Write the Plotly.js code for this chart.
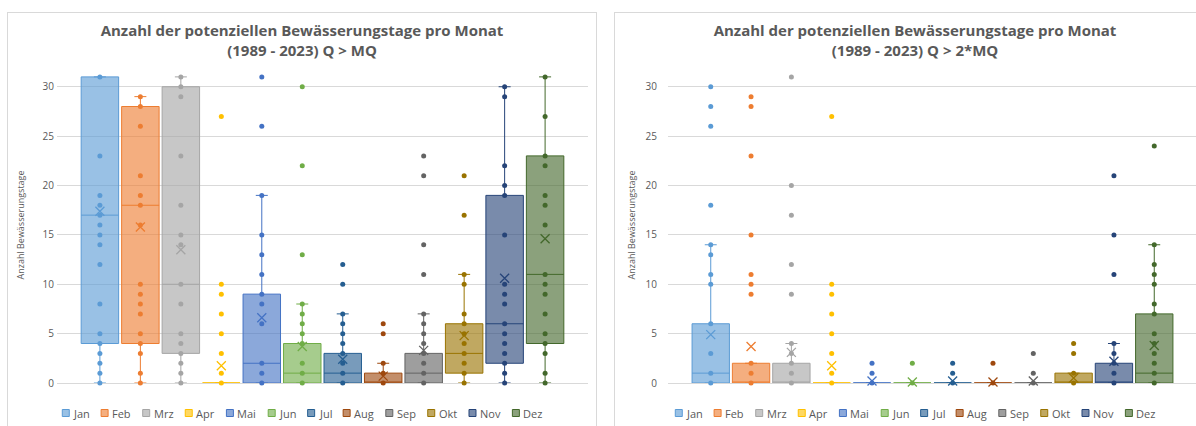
<!DOCTYPE html>
<html><head><meta charset="utf-8">
<script src="https://cdn.plot.ly/plotly-3.0.1.min.js"></script>
<style>
html,body{margin:0;padding:0;background:#fff;overflow:hidden;width:1196px;height:426px;}
.panel{position:absolute;border:1px solid #d9d9d9;box-sizing:border-box;overflow:hidden;background:#fff;}
#p1{left:7px;top:12px;width:590px;height:430px;}
#p2{left:614px;top:12px;width:602px;height:430px;}
.plot{position:absolute;left:0;top:0;}
</style></head><body>
<div id="p1" class="panel"><div id="c1" class="plot"></div></div>
<div id="p2" class="panel"><div id="c2" class="plot"></div></div>
<script>
// ---------- DATA ----------
const months = ['Jan','Feb','Mrz','Apr','Mai','Jun','Jul','Aug','Sep','Okt','Nov','Dez'];

// Chart 1: Q > MQ
const mqQ1     = [4, 4, 3, 0, 0, 0, 0, 0, 0, 1, 2, 4];
const mqMedian = [17, 18, 10, 0, 2, 1, 1, 0, 1, 3, 6, 11];
const mqQ3     = [31, 28, 30, 0, 9, 4, 3, 1, 3, 6, 19, 23];
const mqLower  = [0, 0, 0, 0, 0, 0, 0, 0, 0, 0, 0, 0];
const mqUpper  = [31, 29, 31, 0, 19, 8, 7, 2, 7, 11, 30, 31];
const mqMean   = [17.4, 15.8, 13.5, 1.75, 6.6, 3.7, 2.4, 0.7, 3.3, 4.8, 10.6, 14.6];
const mqPoints = [
  [31,23,19,18,17,16,15,14,12,8,5,4,3,2,1,0],
  [29,28,26,21,19,18,16,10,9,8,7,5,4,3,1,0],
  [31,30,29,23,18,15,14,10,8,5,4,3,2,1,0],
  [27,10,9,7,5,3,1,0],
  [31,26,19,15,13,11,9,8,6,2,1,0],
  [30,22,13,8,7,6,5,4,2,1,0],
  [12,10,7,6,5,4,3,2,1,0],
  [6,5,2,1,0],
  [23,21,14,11,7,6,5,4,3,2,1,0],
  [21,17,11,10,7,6,5,4,3,2,1,0],
  [30,29,22,20,19,15,10,9,8,6,5,4,3,2,1,0],
  [31,27,23,22,19,18,16,11,10,9,7,5,4,3,1,0]
];

// Chart 2: Q > 2*MQ
const mq2Q1     = [0, 0, 0, 0, 0, 0, 0, 0, 0, 0, 0, 0];
const mq2Median = [1, 0, 0, 0, 0, 0, 0, 0, 0, 0, 0, 1];
const mq2Q3     = [6, 2, 2, 0, 0, 0, 0, 0, 0, 1, 2, 7];
const mq2Lower  = [0, 0, 0, 0, 0, 0, 0, 0, 0, 0, 0, 0];
const mq2Upper  = [14, 2, 4, 0, 0, 0, 0, 0, 0, 1, 4, 14];
const mq2Mean   = [4.9, 3.7, 3.1, 1.75, 0.2, 0.1, 0.2, 0.1, 0.2, 0.5, 2.2, 3.8];
const mq2Points = [
  [30,28,26,18,14,13,11,10,6,3,1,0],
  [29,28,23,15,11,10,9,2,1,0],
  [31,20,17,12,9,4,3,2,1,0],
  [27,10,9,7,5,3,1,0],
  [2,1,0],
  [2,0],
  [2,1,0],
  [2,0],
  [3,1,0],
  [4,3,1,0],
  [21,15,11,4,3,2,1,0],
  [24,14,12,11,10,8,7,5,4,3,2,1,0]
];

const titleMain = 'Anzahl der potenziellen Bewässerungstage pro Monat';
const title1Sub = '(1989 - 2023) Q > MQ';
const title2Sub = '(1989 - 2023) Q > 2*MQ';
const yTitle = 'Anzahl Bewässerungstage';

// ---------- STYLE ----------
const colors = ['#5B9BD5','#ED7D31','#A5A5A5','#FFC000','#4472C4','#70AD47',
                '#255E91','#9E480E','#636363','#997300','#264478','#43682B'];
const fillAlpha = 0.62;
function rgba(hex, a){
  const n = parseInt(hex.slice(1),16);
  return 'rgba('+((n>>16)&255)+','+((n>>8)&255)+','+(n&255)+','+a+')';
}
const FONT = '"Open Sans", "Noto Sans", sans-serif';
const GREY = '#595959';

function makeTraces(q1, med, q3, lo, hi, mean, pts){
  const boxes = [], dots = [], means = [];
  months.forEach((m, i) => {
    boxes.push({
      type:'box', name:m, x:[i], q1:[q1[i]], median:[med[i]], q3:[q3[i]],
      lowerfence:[lo[i]], upperfence:[hi[i]],
      width:0.926, whiskerwidth:0.32,
      fillcolor: rgba(colors[i], fillAlpha),
      line:{color:colors[i], width:1},
      showlegend:false, hoverinfo:'skip'
    });
    dots.push({
      type:'scatter', mode:'markers', name:m,
      x: pts[i].map(() => i), y: pts[i],
      marker:{size:5, color:colors[i]},
      cliponaxis:false, showlegend:false, hoverinfo:'skip'
    });
    means.push({
      type:'scatter', mode:'markers', name:m+' Mittel',
      x:[i], y:[mean[i]],
      marker:{symbol:'x-thin-open', size:9, color:colors[i], line:{width:1.3, color:colors[i]}},
      cliponaxis:false, showlegend:false, hoverinfo:'skip'
    });
  });
  return boxes.concat(dots, means);
}

const ctx = document.createElement('canvas').getContext('2d');
function legendItems(divWidth, m, plotW, plotH){
  // legend centred in the panel, built from months and colours
  const fs = 11, sw = 7, gapIn = 3, gapOut = 13;
  ctx.font = fs + 'px "Open Sans"';
  const widths = months.map(t => sw + gapIn + ctx.measureText(t).width);
  const total = widths.reduce((a,b)=>a+b,0) + gapOut*(months.length-1);
  let cur = divWidth/2 - total/2; // in div px
  const shapes = [], annots = [];
  const yc = 413 - 13; // legend centre in div px
  const py = v => (m.t + plotH - v) / plotH;
  const px = v => (v - m.l) / plotW;
  months.forEach((t, i) => {
    shapes.push({type:'rect', xref:'paper', yref:'paper',
      x0:px(cur), x1:px(cur+sw), y0:py(yc+sw/2), y1:py(yc-sw/2),
      fillcolor: rgba(colors[i], fillAlpha), line:{color:colors[i], width:1}});
    annots.push({xref:'paper', yref:'paper', x:px(cur+sw+gapIn-1), y:py(yc),
      xanchor:'left', yanchor:'middle', text:t, showarrow:false,
      font:{family:FONT, size:fs, color:GREY}});
    cur += widths[i] + gapOut;
  });
  return {shapes, annots};
}

function makeLayout(sub, width, m, tickStandoff, titleStandoff){
  const height = 428;
  const plotW = width - m.l - m.r, plotH = height - m.t - m.b;
  const lg = legendItems(width, m, plotW, plotH);
  return {
    width: width, height: height, margin: m,
    paper_bgcolor:'#ffffff', plot_bgcolor:'#ffffff',
    showlegend:false, boxmode:'overlay',
    title:{text: titleMain + '<br>' + sub, x:0.5, xanchor:'center', xref:'container',
           y: 1 - 23/height, yanchor:'top', yref:'container',
           font:{family:FONT, size:15, color:GREY, weight:700}},
    xaxis:{range:[-1.06, 12.06], showticklabels:false, showgrid:false, zeroline:false,
           showline:false, ticks:'', fixedrange:true},
    yaxis:{range:[0, 32], tick0:0, dtick:5, showgrid:true, gridcolor:'#d9d9d9', gridwidth:1,
           zeroline:true, zerolinecolor:'#d9d9d9', zerolinewidth:1, showline:false, ticks:'',
           ticklabelstandoff: tickStandoff,
           tickfont:{family:FONT, size:10, color:GREY},
           title:{text:yTitle, font:{family:FONT, size:9, color:GREY}, standoff:titleStandoff},
           automargin:false, fixedrange:true},
    shapes: lg.shapes, annotations: lg.annots
  };
}

const m1 = {l:49, r:8, t:54, b:58};
const m2 = {l:53, r:18, t:54, b:58};
Plotly.newPlot('c1', makeTraces(mqQ1, mqMedian, mqQ3, mqLower, mqUpper, mqMean, mqPoints),
  makeLayout(title1Sub, 588, m1, 2, 16), {staticPlot:true});
Plotly.newPlot('c2', makeTraces(mq2Q1, mq2Median, mq2Q3, mq2Lower, mq2Upper, mq2Mean, mq2Points),
  makeLayout(title2Sub, 600, m2, 10, 8), {staticPlot:true});
</script>
</body></html>
